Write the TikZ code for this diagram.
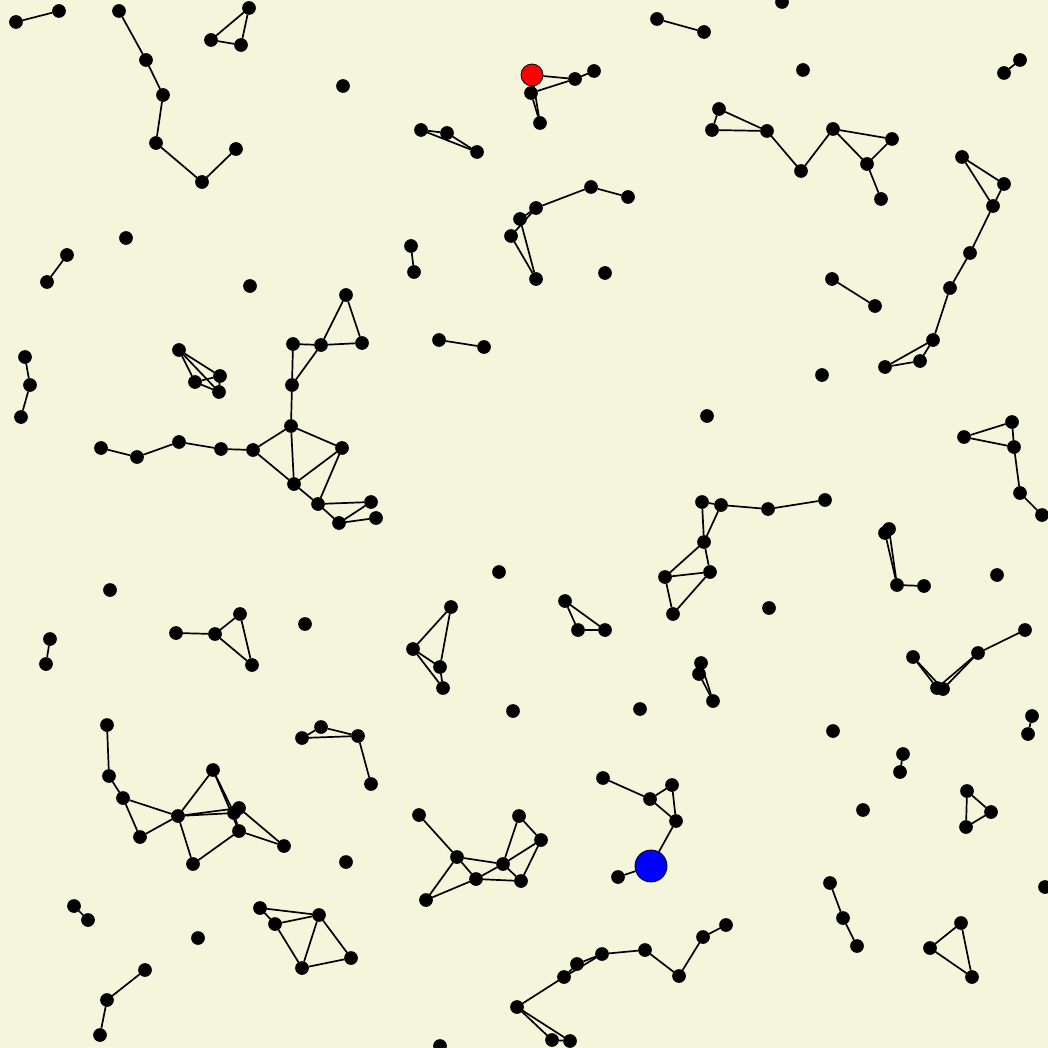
\documentclass[tikz,border=0pt]{standalone}
\usepackage{tikz}
\definecolor{bgbeige}{HTML}{F5F5DC}
\begin{document}
\begin{tikzpicture}[x=1pt,y=-1pt,
  dot/.style={circle,fill=black,draw=black,line width=0.6pt,inner sep=0pt,minimum size=13pt},
  reddot/.style={circle,fill=red,draw=black,line width=0.8pt,inner sep=0pt,minimum size=22pt},
  bluedot/.style={circle,fill=blue,draw=black,line width=0.8pt,inner sep=0pt,minimum size=32pt},
  link/.style={draw=black,line width=1.7pt}]
\useasboundingbox (0,0) rectangle (1048,1048);
\clip (0,0) rectangle (1048,1048);
\fill[bgbeige] (0,0) rectangle (1048,1048);
\node[reddot] (R) at (532,75) {};
\node[bluedot] (B) at (651,866) {};
\foreach \n/\x/\y in {
a1/16/22, a2/59/11,
b1/119/11, b2/146/60, b3/163/95, b4/156/143, b5/202/182, b6/236/149,
c1/249/8, c2/211/40, c3/241/45,
d1/343/86, d2/126/238,
e1/67/255, e2/47/282,
f1/575/79, f2/594/71, f3/531/93, f4/540/123,
g1/421/130, g2/447/133, g3/477/152,
h1/591/187, h2/628/197, h3/536/208, h4/520/219, h5/511/236, h6/536/279,
f5/411/246, f6/414/272,
d3/605/273,
o1/657/19, o2/704/32,
d4/782/2, d5/803/70,
o3/1020/60, o4/1004/73,
i1/719/109, i2/712/130, i3/767/131, i4/801/171, i5/833/129, i6/892/139, i7/867/164, i8/881/199,
j1/962/157, j2/1004/184, j3/993/206, j4/970/253, j5/950/288, j6/933/340, j7/920/361, j8/885/367,
o5/832/279, o6/875/306,
d6/822/375, d7/707/416,
k1/964/437, k2/1012/422, k3/1014/447, k4/1020/493, k5/1042/515,
l1/702/502, l2/721/505, l3/768/509, l4/825/500, l5/704/542, l6/710/572, l7/665/577, l8/673/614,
m1/885/533, m2/889/529, m3/897/585, m4/924/586,
d8/997/575, d9/769/608,
n1/913/657, n2/937/688, n3/943/689, n4/978/653, n5/1025/630,
o7/1032/716, o8/1028/734,
d10/833/731,
o9/903/754, o10/900/772,
p1/701/663, p2/699/674, p3/713/701,
q1/967/791, q2/991/812, q3/966/827,
d11/863/810,
r1/830/883, r2/843/918, r3/857/946,
r4/930/948, r5/961/923, r6/972/977,
d12/1045/887,
s1/603/778, s2/650/799, s3/672/785, s4/676/821, s5/618/877,
t1/419/815, t2/457/857, t3/476/879, t4/503/864, t5/519/816, t6/541/840, t7/521/881, t8/426/900,
d13/346/862,
u1/726/925, u2/703/937, u3/679/976, u4/645/950, u5/602/954, u6/577/964, u7/564/977, u8/517/1007, u9/552/1040, u10/570/1041,
d14/440/1046, d15/513/711, d16/640/709, d17/499/572,
v1/451/607, v2/413/649, v3/440/667, v4/443/688,
w1/565/601, w2/578/630, w3/605/630,
d18/110/590,
x5/50/639, x6/46/664,
x1/176/633, x2/215/634, x3/240/614, x4/252/665,
d19/305/624,
y1/107/725, y2/109/776, y3/123/798, y4/140/837, y5/178/816, y6/193/864, y7/213/770, y8/239/808, y9/234/813, y10/239/831, y11/284/846,
z1/302/738, z2/321/727, z3/358/736, z4/371/784,
x7/74/906, x8/88/920,
d20/198/938,
x9/145/970, x10/107/1000, x11/100/1035,
aa1/260/908, aa2/275/924, aa3/319/915, aa4/302/968, aa5/351/958,
e3/25/357, e4/30/385, e5/21/417,
bb1/179/350, bb2/195/382, bb3/220/376, bb4/219/392,
d21/250/286,
cc1/346/295, cc2/293/344, cc3/321/345, cc4/362/343, cc5/292/385, cc6/291/426, cc7/253/450, cc8/221/449, cc9/179/442, cc10/137/457, cc11/101/448, cc12/342/448, cc13/294/484, cc14/318/504, cc15/339/523, cc16/371/502, cc17/376/518,
o11/439/340, o12/484/347}
  \node[dot] (\n) at (\x,\y) {};
\foreach \p/\q in {
a1/a2, b1/b2, b2/b3, b3/b4, b4/b5, b5/b6, c1/c2, c2/c3, c1/c3, e1/e2,
R/f1, f1/f2, f3/f1, R/f4, f3/f4,
g1/g2, g2/g3, g1/g3,
h1/h2, h3/h1, h3/h4, h3/h5, h4/h6, h5/h6,
f5/f6, o1/o2, o3/o4,
i1/i2, i1/i3, i2/i3, i3/i4, i4/i5, i5/i6, i5/i7, i6/i7, i7/i8,
j1/j2, j1/j3, j2/j3, j3/j4, j4/j5, j5/j6, j6/j7, j6/j8, j7/j8,
o5/o6,
k1/k2, k1/k3, k2/k3, k3/k4, k4/k5,
l1/l2, l2/l3, l3/l4, l1/l5, l2/l5, l5/l6, l5/l7, l7/l6, l7/l8, l6/l8,
m1/m3, m2/m3, m3/m4,
n1/n2, n1/n3, n2/n4, n3/n4, n4/n5,
o7/o8, o9/o10,
p1/p3, p2/p3, p1/p2,
q1/q2, q1/q3, q2/q3,
r1/r2, r2/r3, r4/r5, r4/r6, r5/r6,
s1/s2, s2/s3, s2/s4, s3/s4, s4/B, B/s5,
t1/t2, t2/t4, t2/t3, t2/t8, t8/t3, t3/t4, t3/t7, t4/t7, t4/t5, t4/t6, t5/t6, t6/t7,
u1/u2, u2/u3, u3/u4, u4/u5, u5/u6, u5/u7, u6/u7, u7/u8, u8/u9, u8/u10, u9/u10,
v1/v2, v1/v3, v2/v3, v2/v4, v3/v4,
w1/w2, w1/w3, w2/w3,
x5/x6, x1/x2, x2/x3, x2/x4, x3/x4,
y1/y2, y2/y3, y3/y4, y3/y5, y4/y5, y5/y6, y5/y7, y5/y8, y5/y9, y7/y9, y7/y10, y6/y10, y8/y11, y10/y11, y9/y10,
z1/z2, z1/z3, z2/z3, z3/z4,
x7/x8, x9/x10, x10/x11,
aa1/aa3, aa1/aa2, aa2/aa3, aa2/aa4, aa3/aa4, aa3/aa5, aa4/aa5,
e3/e4, e4/e5,
bb1/bb2, bb1/bb3, bb1/bb4, bb2/bb3, bb2/bb4, bb3/bb4,
cc1/cc3, cc1/cc4, cc3/cc4, cc2/cc3, cc2/cc5, cc3/cc5, cc5/cc6, cc6/cc7, cc6/cc12, cc6/cc13, cc7/cc8, cc8/cc9, cc9/cc10, cc10/cc11, cc7/cc13, cc13/cc12, cc12/cc14, cc13/cc14, cc14/cc15, cc14/cc16, cc15/cc16, cc15/cc17,
o11/o12}
  \draw[link] (\p) -- (\q);
\end{tikzpicture}
\end{document}
